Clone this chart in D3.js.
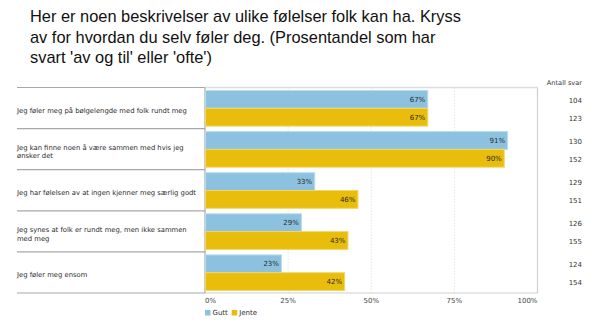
<!DOCTYPE html>
<html><head><meta charset="utf-8">
<script src="https://cdn.jsdelivr.net/npm/d3@7"></script>
<style>body{margin:0;background:#fff}svg{display:block}</style>
</head><body>
<svg id="c" width="600" height="326"></svg>
<script>
const titleLines = ["Her er noen beskrivelser av ulike følelser folk kan ha. Kryss",
  "av for hvordan du selv føler deg. (Prosentandel som har",
  "svart 'av og til' eller 'ofte')"];
const categories = [
  ["Jeg føler meg på bølgelengde med folk rundt meg"],
  ["Jeg kan finne noen å være sammen med hvis jeg", "ønsker det"],
  ["Jeg har følelsen av at ingen kjenner meg særlig godt"],
  ["Jeg synes at folk er rundt meg, men ikke sammen", "med meg"],
  ["Jeg føler meg ensom"]
];
const seriesNames = ["Gutt", "Jente"];
const gutt = [67, 91, 33, 29, 23];
const jente = [67, 90, 46, 43, 42];
const guttN = [104, 130, 129, 126, 124];
const jenteN = [123, 152, 151, 155, 154];
const tickValues = [0, 25, 50, 75, 100];
const countHeader = "Antall svar";

(function() {
const colors = {Gutt: "#8cc2df", Jente: "#e9bd0b"};
const strokes = {Gutt: "#b9dcee", Jente: "#f4d765"};

const svg = d3.select("#c");
const font = "'DejaVu Sans', Verdana, sans-serif";

// title
svg.append("g").selectAll("text").data(titleLines).join("text")
  .attr("x", 30).attr("y", (d, i) => 22 + i * 20.7)
  .attr("font-family", "'Liberation Sans', Arial, sans-serif")
  .attr("font-size", 16.4).attr("fill", "#111").text(d => d);

const pL = 205, pR = 537.5, pT = 87.5, pB = 293;
const x = d3.scaleLinear().domain([0, 100]).range([pL, pR]);
const idx = categories.map((d, i) => i);
const y = d3.scaleBand().domain(idx).range([pT, pB]).padding(0);
const yi = d3.scaleBand().domain(seriesNames).range([3, y.bandwidth() - 2.5]).padding(0);

// gridlines
svg.append("g").selectAll("line").data([25, 50, 75]).join("line")
  .attr("x1", d => x(d)).attr("x2", d => x(d)).attr("y1", pT).attr("y2", pB)
  .attr("stroke", "#dedede").attr("stroke-dasharray", "1.5,1.5").attr("stroke-width", 0.8);

// plot border
svg.append("line").attr("x1", pL).attr("x2", pR).attr("y1", pT).attr("y2", pT)
  .attr("stroke", "#dcdcdc").attr("stroke-width", 1.6);
svg.append("line").attr("x1", pR).attr("x2", pR).attr("y1", pT).attr("y2", pB)
  .attr("stroke", "#cfcfcf").attr("stroke-width", 1.2);
svg.append("line").attr("x1", pL).attr("x2", pR).attr("y1", pB).attr("y2", pB)
  .attr("stroke", "#cfcfcf").attr("stroke-width", 1.2);

// label column separators
const seps = idx.map(i => y(i)).concat([pB]);
svg.append("g").selectAll("line").data(seps).join("line")
  .attr("x1", 17).attr("x2", pL).attr("y1", d => d).attr("y2", d => d)
  .attr("stroke", "#a8a8a8").attr("stroke-width", 1.2);
svg.append("line").attr("x1", pL).attr("x2", pL).attr("y1", pT).attr("y2", pB)
  .attr("stroke", "#a8a8a8").attr("stroke-width", 1.2);

// bars
const rows = idx.map(i => ({i, vals: [{s: "Gutt", v: gutt[i], n: guttN[i]}, {s: "Jente", v: jente[i], n: jenteN[i]}]}));
const rowG = svg.append("g").selectAll("g").data(rows).join("g")
  .attr("transform", d => `translate(0,${y(d.i)})`);
rowG.selectAll("rect").data(d => d.vals).join("rect")
  .attr("x", x(0) + 0.5).attr("y", d => yi(d.s))
  .attr("width", d => x(d.v) - x(0) - 0.5).attr("height", yi.bandwidth())
  .attr("fill", d => colors[d.s]).attr("stroke", d => strokes[d.s]).attr("stroke-width", 1);
rowG.selectAll("text.val").data(d => d.vals).join("text").attr("class", "val")
  .attr("x", d => x(d.v) - 2.5).attr("y", d => yi(d.s) + yi.bandwidth() / 2)
  .attr("dy", "0.35em").attr("text-anchor", "end")
  .attr("font-family", font).attr("font-size", 7).attr("fill", "#2a2a2a")
  .text(d => d.v + "%");
rowG.selectAll("text.n").data(d => d.vals).join("text").attr("class", "n")
  .attr("x", 582).attr("y", d => yi(d.s) + yi.bandwidth() / 2 + 1)
  .attr("dy", "0.35em").attr("text-anchor", "end")
  .attr("font-family", font).attr("font-size", 7).attr("fill", "#333")
  .text(d => d.n);

// category labels
rowG.append("text").attr("font-family", font).attr("font-size", 6.8).attr("fill", "#2a2a2a")
  .each(function(d) {
    const lines = categories[d.i];
    const c = y.bandwidth() / 2 + 2.5 - (lines.length - 1) * 4.3;
    d3.select(this).selectAll("tspan").data(lines).join("tspan")
      .attr("x", 17).attr("y", (l, k) => c + k * 8.6).attr("dy", "0.35em").text(l => l);
  });

// header
svg.append("text").attr("x", 582).attr("y", 83).attr("dy", "0.35em").attr("text-anchor", "end")
  .attr("font-family", font).attr("font-size", 6.6).attr("fill", "#333").text(countHeader);

// x axis labels
svg.append("g").selectAll("text").data(tickValues).join("text")
  .attr("x", d => x(d)).attr("y", 301).attr("dy", "0.35em")
  .attr("text-anchor", (d, i) => i === 0 ? "start" : (i === tickValues.length - 1 ? "end" : "middle"))
  .attr("font-family", font).attr("font-size", 7).attr("fill", "#444")
  .text(d => d + "%");

// legend
const leg = svg.append("g").selectAll("g").data(seriesNames).join("g")
  .attr("transform", (d, i) => `translate(${205 + i * 26.7},313)`);
leg.append("rect").attr("x", 0).attr("y", -3).attr("width", 5.5).attr("height", 5.5)
  .attr("fill", d => colors[d]);
leg.append("text").attr("x", 7.5).attr("y", 0).attr("dy", "0.35em")
  .attr("font-family", font).attr("font-size", 7).attr("fill", "#333").text(d => d);
})();
</script>
</body></html>
